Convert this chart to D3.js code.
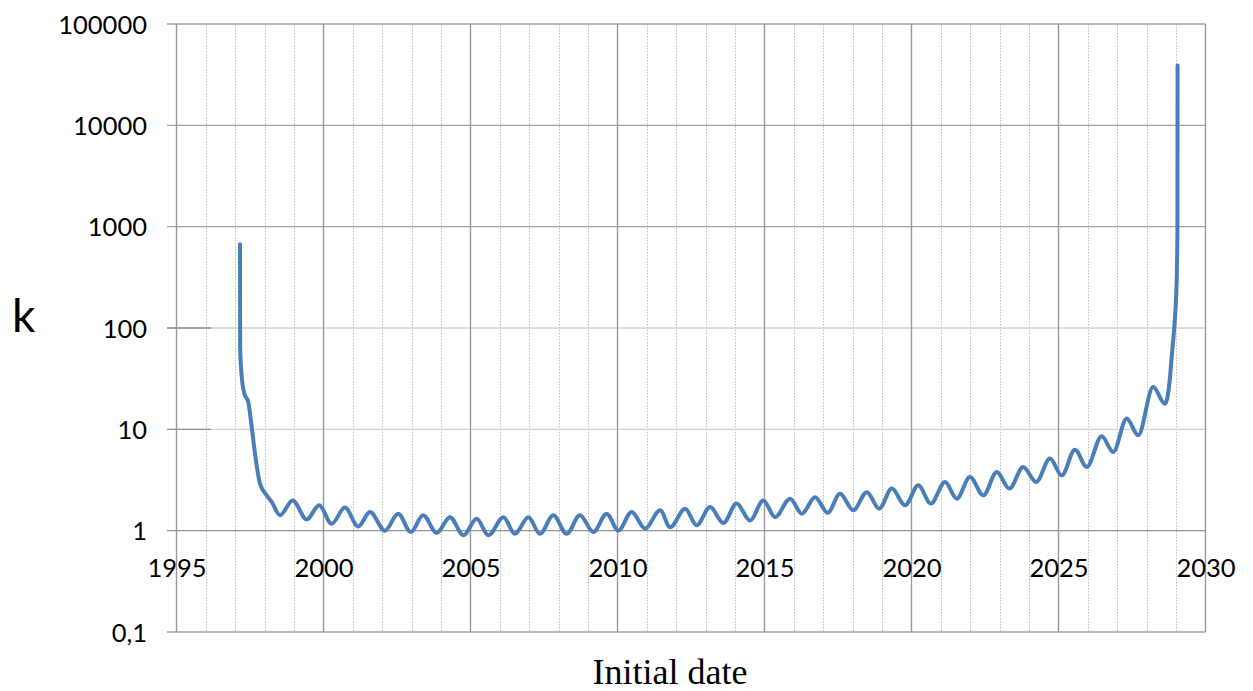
<!DOCTYPE html>
<html>
<head>
<meta charset="utf-8">
<script src="https://cdn.jsdelivr.net/npm/d3@7"></script>
<style>
  html, body { margin: 0; padding: 0; background: #fff; }
  svg { display: block; }
</style>
</head>
<body>
<svg id="chart" width="1253" height="691"></svg>
<script>
// ---- data ----
const dates = [
  1997.16, 1997.165, 1997.22, 1997.31, 1997.44, 1997.56, 1997.67, 1997.84, 1998.07, 1998.24,
  1998.52, 1998.95, 1999.43, 1999.85, 2000.28, 2000.73, 2001.18, 2001.58, 2002.09, 2002.54,
  2002.97, 2003.39, 2003.85, 2004.30, 2004.76, 2005.21, 2005.61, 2006.12, 2006.51, 2006.97,
  2007.36, 2007.82, 2008.27, 2008.72, 2009.18, 2009.63, 2010.03, 2010.48, 2010.94, 2011.45,
  2011.79, 2012.30, 2012.69, 2013.15, 2013.60, 2014.05, 2014.51, 2014.96, 2015.36, 2015.87,
  2016.27, 2016.72, 2017.15, 2017.57, 2018.02, 2018.48, 2018.90, 2019.33, 2019.78, 2020.23,
  2020.66, 2021.14, 2021.54, 2021.99, 2022.44, 2022.90, 2023.33, 2023.80, 2024.24, 2024.71,
  2025.11, 2025.56, 2025.96, 2026.47, 2026.86, 2027.32, 2027.71, 2028.22, 2028.62, 2028.77,
  2028.85, 2028.93, 2028.99, 2029.02, 2029.045, 2029.05
];
const kValues = [
  670, 65, 33, 22.5, 18.6, 10.5, 5.75, 2.91, 2.23, 1.92,
  1.42, 1.99, 1.29, 1.78, 1.17, 1.69, 1.10, 1.53, 1.00, 1.47,
  0.97, 1.42, 0.95, 1.36, 0.90, 1.31, 0.90, 1.36, 0.93, 1.36,
  0.93, 1.42, 0.93, 1.42, 0.97, 1.47, 1.00, 1.53, 1.05, 1.59,
  1.08, 1.65, 1.13, 1.71, 1.19, 1.85, 1.26, 1.99, 1.36, 2.07,
  1.47, 2.14, 1.50, 2.32, 1.59, 2.40, 1.65, 2.60, 1.78, 2.80,
  1.85, 3.02, 2.07, 3.38, 2.23, 3.79, 2.60, 4.25, 3.02, 5.14,
  3.51, 6.3, 4.25, 8.53, 5.97, 12.8, 8.73, 26.2, 17.9, 28,
  52, 95, 174, 296, 922, 39000
];
const yTickValues = [0.1, 1, 10, 100, 1000, 10000, 100000];
const yTickLabels = ["0,1", "1", "10", "100", "1000", "10000", "100000"];
const xMajorTicks = [1995, 2000, 2005, 2010, 2015, 2020, 2025, 2030];
const xMinorTicks = d3.range(1996, 2030).filter(v => v % 5 !== 0);
const yAxisTitle = "k";
const xAxisTitle = "Initial date";

// ---- layout ----
const plotLeft = 176.5, plotRight = 1205.5, plotTop = 24, plotBottom = 632;
const svg = d3.select("#chart");
const x = d3.scaleLinear().domain([1995, 2030]).range([plotLeft, plotRight]);
const y = d3.scaleLog().domain([0.1, 100000]).range([plotBottom, plotTop]);

const labelFont = "Lato, 'Open Sans', sans-serif";

// minor dotted vertical grid
svg.append("g").selectAll("line").data(xMinorTicks).join("line")
  .attr("x1", d => Math.round(x(d)) + 0.5).attr("x2", d => Math.round(x(d)) + 0.5)
  .attr("y1", plotTop).attr("y2", plotBottom)
  .attr("stroke", "#bdbdbd").attr("stroke-width", 1)
  .attr("stroke-dasharray", "1.5,1.5");

// horizontal grid (with tick extension on the left)
const hColor = v => (v === 10 || v === 100) ? "#d2d2d2" : (v === 1 ? "#959595" : "#a3a3a3");
svg.append("g").selectAll("line").data(yTickValues).join("line")
  .attr("x1", plotLeft - 9.5).attr("x2", plotRight)
  .attr("y1", d => y(d)).attr("y2", d => y(d))
  .attr("stroke", d => hColor(d)).attr("stroke-width", 1.4);
// darker left segment on the lighter lines
svg.append("g").selectAll("line").data([10, 100]).join("line")
  .attr("x1", plotLeft - 9.5).attr("x2", x(1996.17))
  .attr("y1", d => y(d)).attr("y2", d => y(d))
  .attr("stroke", "#8f8f8f").attr("stroke-width", 1.4);

// major vertical grid
svg.append("g").selectAll("line").data(xMajorTicks).join("line")
  .attr("x1", d => x(d)).attr("x2", d => x(d))
  .attr("y1", plotTop).attr("y2", plotBottom)
  .attr("stroke", "#9a9a9a").attr("stroke-width", 1.4);

// y axis labels via d3 axis
const yAxis = d3.axisLeft(y).tickValues(yTickValues)
  .tickFormat((d, i) => yTickLabels[i]).tickSize(0).tickPadding(29.5);
const gy = svg.append("g").attr("transform", `translate(${plotLeft},0)`).call(yAxis);
gy.select(".domain").remove();
gy.selectAll("text").attr("font-family", labelFont).attr("font-size", 25.5)
  .attr("fill", "#000").attr("dy", "0.36em");

// x axis labels via d3 axis placed at y = 1
const xAxis = d3.axisBottom(x).tickValues(xMajorTicks).tickFormat(d3.format("d"))
  .tickSize(0).tickPadding(0);
const gx = svg.append("g").attr("transform", `translate(0,${y(1)})`).call(xAxis);
gx.select(".domain").remove();
gx.selectAll("text").attr("font-family", labelFont).attr("font-size", 25.5)
  .attr("fill", "#000").attr("dy", null).attr("y", 46.5);

// data line
const pts = dates.map((d, i) => [d, kValues[i]]);
const line = d3.line().x(d => x(d[0])).y(d => y(d[1])).curve(d3.curveMonotoneX);
svg.append("path").datum(pts)
  .attr("d", line).attr("fill", "none")
  .attr("stroke", "#4a7ebb").attr("stroke-width", 4)
  .attr("stroke-linejoin", "round").attr("stroke-linecap", "round");

// titles
svg.append("text").attr("x", 12).attr("y", 332)
  .attr("font-family", labelFont).attr("font-size", 46).attr("fill", "#000")
  .text(yAxisTitle);
svg.append("text").attr("x", 670).attr("y", 684).attr("text-anchor", "middle")
  .attr("font-family", "'Liberation Serif', 'Times New Roman', serif")
  .attr("font-size", 36).attr("fill", "#000")
  .text(xAxisTitle);
</script>
</body>
</html>
